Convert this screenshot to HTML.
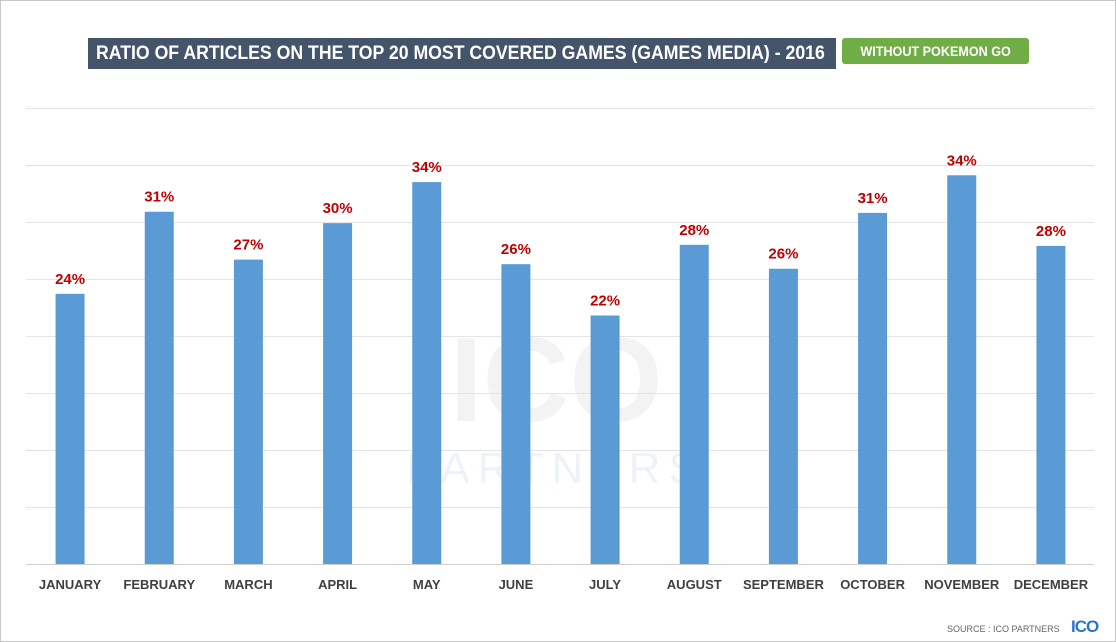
<!DOCTYPE html>
<html><head><meta charset="utf-8"><style>
body{margin:0;background:#fff;}
#wrap{position:relative;width:1114px;height:640px;border:1px solid #c8c8c8;background:#fff;overflow:hidden;font-family:"Liberation Sans",sans-serif;}
#title{position:absolute;left:87px;top:37px;width:748px;height:31px;background:#44546a;color:#fff;font-size:19px;font-weight:bold;line-height:31px;white-space:nowrap;overflow:hidden;}
#title span{display:inline-block;transform-origin:0 50%;transform:scaleX(0.93);margin-left:8px;}
#badge{position:absolute;left:841px;top:37px;width:187px;height:26px;background:#70ad47;color:#fff;font-size:14px;font-weight:bold;line-height:26px;text-align:center;border-radius:3px;white-space:nowrap;}
#badge span{display:inline-block;transform:scaleX(0.9);}
#src{position:absolute;left:946px;top:623px;font-size:9px;color:#666;}
#logo{position:absolute;left:1070px;top:616px;font-size:17px;font-weight:900;color:#2e75c9;letter-spacing:-1px;}
</style></head><body>
<div id="wrap">
<div id="title"><span>RATIO OF ARTICLES ON THE TOP 20 MOST COVERED GAMES (GAMES MEDIA) - 2016</span></div>
<div id="badge"><span>WITHOUT POKEMON GO</span></div>
<svg id="chart" width="1114" height="640" style="position:absolute;left:0;top:0">
<text x="555" y="420" font-size="120" font-weight="900" fill="#f3f3f3" text-anchor="middle" font-family="Liberation Sans, sans-serif">ICO</text>
<text x="555" y="482" font-size="44" fill="#eef3fa" text-anchor="middle" letter-spacing="8" font-family="Liberation Sans, sans-serif">PARTNERS</text>
<g id="grid"></g><g id="bars"></g>
</svg>
<div id="src">SOURCE : ICO PARTNERS</div>
<div id="logo">ICO</div>
</div>
<script>
const categories=["JANUARY","FEBRUARY","MARCH","APRIL","MAY","JUNE","JULY","AUGUST","SEPTEMBER","OCTOBER","NOVEMBER","DECEMBER"];
const values=[23.7,30.9,26.7,29.9,33.5,26.3,21.8,28.0,25.9,30.8,34.1,27.9];
const labels=["24%","31%","27%","30%","34%","26%","22%","28%","26%","31%","34%","28%"];
const gridTicks=[0,5,10,15,20,25,30,35,40];
const NS="http://www.w3.org/2000/svg";
const x0=25,x1=1093,yBase=563,yTop=107,vMax=40;
const y=v=>yBase-(v/vMax)*(yBase-yTop);
const step=(x1-x0+2)/categories.length;
const xc=i=>x0+step*(i+0.5)-0.5;
const grid=document.getElementById('grid'),bars=document.getElementById('bars');
gridTicks.forEach(t=>{const l=document.createElementNS(NS,'line');
l.setAttribute('x1',x0);l.setAttribute('x2',x1);l.setAttribute('y1',Math.round(y(t))+0.5);l.setAttribute('y2',Math.round(y(t))+0.5);
l.setAttribute('stroke',t===0?'#d0d0d0':'#e4e4e4');


grid.appendChild(l);});
values.forEach((v,i)=>{
const r=document.createElementNS(NS,'rect');
r.setAttribute('x',xc(i)-14.5);r.setAttribute('width',29);r.setAttribute('y',y(v));r.setAttribute('height',yBase-y(v));r.setAttribute('fill','#5b9bd5');


bars.appendChild(r);
const t=document.createElementNS(NS,'text');
t.setAttribute('x',xc(i));t.setAttribute('y',y(v)-10);t.setAttribute('text-anchor','middle');t.setAttribute('font-size','15');t.setAttribute('font-weight','bold');t.setAttribute('fill','#c00000');t.setAttribute('font-family','Liberation Sans, sans-serif');
t.textContent=labels[i];


bars.appendChild(t);
const c=document.createElementNS(NS,'text');
c.setAttribute('x',xc(i));c.setAttribute('y',588);c.setAttribute('text-anchor','middle');c.setAttribute('font-size','13');c.setAttribute('font-weight','bold');c.setAttribute('fill','#404040');c.setAttribute('font-family','Liberation Sans, sans-serif');
c.textContent=categories[i];


bars.appendChild(c);
});
</script>
</body></html>
